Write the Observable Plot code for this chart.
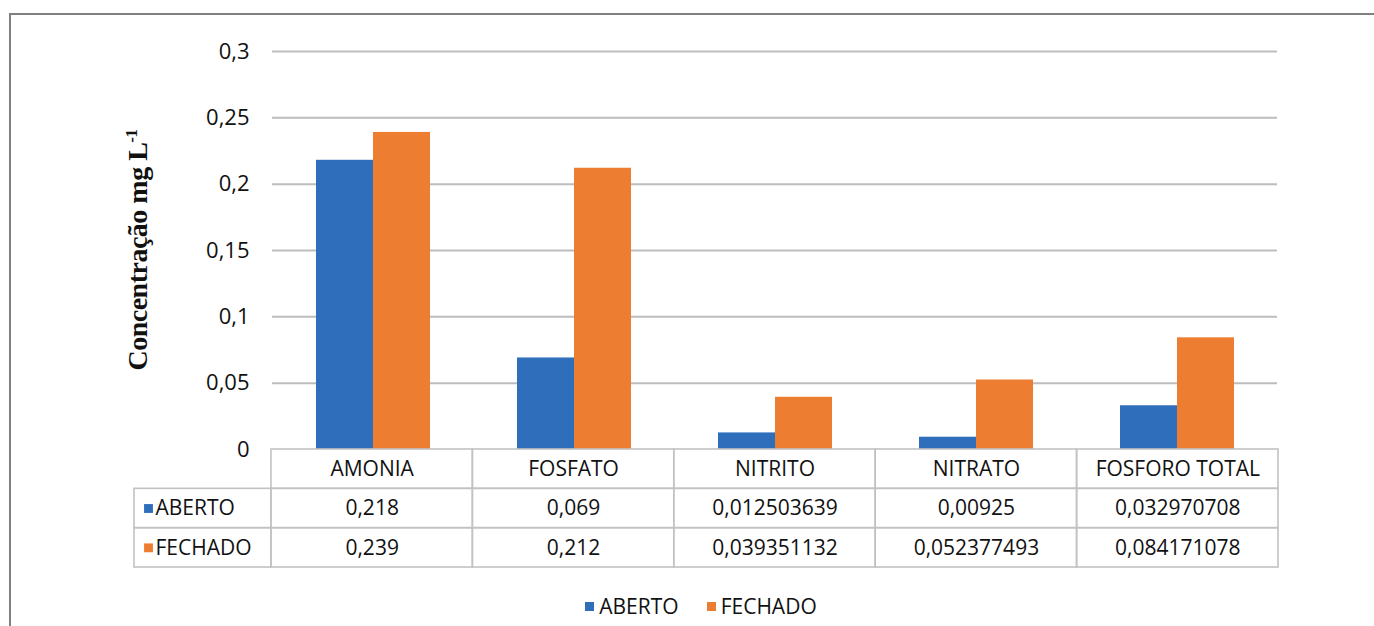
<!DOCTYPE html>
<html>
<head>
<meta charset="utf-8">
<script src="https://cdn.jsdelivr.net/npm/d3@7"></script>
<script src="https://cdn.jsdelivr.net/npm/@observablehq/plot@0.6"></script>
<style>
  html, body { margin: 0; padding: 0; background: #fff; width: 1374px; height: 626px; overflow: hidden; }
  #border { position: absolute; left: 9px; top: 13px; width: 1400px; height: 700px; border: 2px solid #808080; box-sizing: border-box; }
  #chart, #table { position: absolute; left: 0; }
  #chart { top: 0; }
  #table { top: 440px; }
  #ylab { position: absolute; left: 138px; top: 250px; transform: translate(-50%, -50%) rotate(-90deg);
          white-space: nowrap; font: bold 28px "Liberation Serif", "DejaVu Serif", serif; color: #111; letter-spacing: -0.5px; }
  #ylab sup { font-size: 17px; }
  #legend { position: absolute; top: 592px; left: 0; width: 1374px; display: flex; justify-content: center; gap: 28px;
            font: 500 21px "Open Sans", Lato, sans-serif; color: #111; padding-left: 28px; box-sizing: border-box; }
  #legend .item { display: flex; align-items: center; }
  #legend .sw { width: 9px; height: 9px; margin-right: 5px; }
</style>
</head>
<body>
<div id="border"></div>
<div id="chart"></div>
<div id="table"></div>
<div id="ylab">Concentração mg L<sup>-1</sup></div>
<div id="legend"></div>
<script>
// ---- data ----
const categories = ["AMONIA", "FOSFATO", "NITRITO", "NITRATO", "FOSFORO TOTAL"];
const seriesNames = ["ABERTO", "FECHADO"];
const aberto = [0.218, 0.069, 0.012503639, 0.00925, 0.032970708];
const fechado = [0.239, 0.212, 0.039351132, 0.052377493, 0.084171078];
const yTicks = [0, 0.05, 0.1, 0.15, 0.2, 0.25, 0.3];
const colors = ["#2F6EBA", "#ED7D31"];

const fmt = v => String(v).replace(".", ",");
const seriesValues = [aberto, fechado];

const rows = categories.flatMap((c, i) => seriesNames.map((s, k) => ({category: c, series: s, value: seriesValues[k][i]})));

const font = "'Open Sans', Lato, sans-serif";
const ink = "#111";

// ---- bar chart ----
const chart = Plot.plot({
  width: 1374, height: 475,
  marginLeft: 270, marginRight: 96, marginTop: 51, marginBottom: 26,
  style: {fontFamily: font, fontSize: "22px", fontWeight: 500, color: ink, background: "transparent"},
  fx: {domain: categories, padding: 0, axis: null},
  x: {domain: seriesNames, paddingInner: 0, paddingOuter: 0.753, axis: null},
  y: {domain: [0, 0.3], ticks: yTicks, tickFormat: fmt, tickSize: 0, tickPadding: 23, label: null},
  color: {domain: seriesNames, range: colors},
  marks: [
    Plot.gridY(yTicks.filter(d => d > 0), {stroke: "#bdbdbd", strokeWidth: 2, strokeOpacity: 1}),
    Plot.barY(rows, {fx: "category", x: "series", y: "value", fill: "series"})
  ]
});
document.getElementById("chart").append(chart);

// ---- data table under the chart ----
const labelCol = -0.68; // left edge of the row-label column, in category units
const cells = [];
categories.forEach((c, i) => {
  cells.push({x1: i, x2: i + 1, y1: 0, y2: 1, text: c});
  seriesNames.forEach((s, k) => cells.push({x1: i, x2: i + 1, y1: k + 1, y2: k + 2, text: fmt(seriesValues[k][i])}));
});
const labelCells = seriesNames.map((s, k) => ({x1: labelCol, x2: 0, y1: k + 1, y2: k + 2, text: s, color: colors[k]}));

const table = Plot.plot({
  width: 1374, height: 140,
  margin: 0,
  style: {fontFamily: font, fontSize: "21px", fontWeight: 500, color: ink, background: "transparent"},
  x: {type: "linear", domain: [labelCol, categories.length], range: [134, 1278], axis: null},
  y: {type: "linear", domain: [0, 3], range: [9, 127], axis: null},
  marks: [
    Plot.rect(cells.concat(labelCells), {x1: "x1", x2: "x2", y1: "y1", y2: "y2", fill: "none", stroke: "#c2c2c2", strokeWidth: 1.6}),
    Plot.text(cells, {x: d => (d.x1 + d.x2) / 2, y: d => (d.y1 + d.y2) / 2, text: "text", fill: ink}),
    Plot.dot(labelCells, {x: "x1", y: d => (d.y1 + d.y2) / 2, dx: 14, symbol: "square", r: 5, fill: "color", stroke: null}),
    Plot.text(labelCells, {x: "x1", y: d => (d.y1 + d.y2) / 2, dx: 21, textAnchor: "start", text: "text", fill: ink})
  ]
});
document.getElementById("table").append(table);

// ---- legend ----
const legend = document.getElementById("legend");
seriesNames.forEach((s, k) => {
  const item = document.createElement("div");
  item.className = "item";
  const sw = document.createElement("span");
  sw.className = "sw";
  sw.style.background = colors[k];
  item.append(sw, document.createTextNode(s));
  legend.append(item);
});
</script>
</body>
</html>
